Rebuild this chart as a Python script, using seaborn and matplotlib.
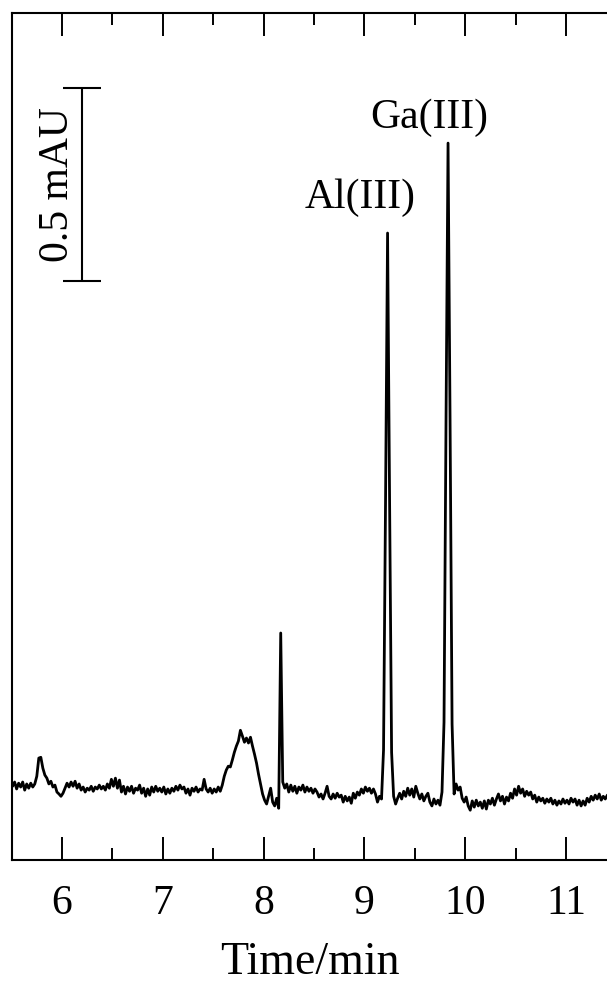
import numpy as np
import pandas as pd
import matplotlib
matplotlib.use("Agg")
import matplotlib.pyplot as plt
import seaborn as sns
from matplotlib.ticker import MultipleLocator

# electropherogram, detector read every 0.02 min
time_min = np.round(np.linspace(5.51, 11.41, 296), 2)
signal_mau = [
    0.010, 0.021, 0.003, 0.018, 0.008, 0.021, 0.000, 0.016, 0.005, 0.018,
    0.008, 0.016, 0.036, 0.083, 0.085, 0.057, 0.039, 0.031, 0.016, 0.023,
    0.008, 0.013, -0.005, -0.010, -0.016, -0.008, 0.005, 0.018, 0.008, 0.021,
    0.010, 0.023, 0.005, 0.016, 0.000, 0.008, -0.005, 0.005, 0.000, 0.010,
    -0.003, 0.008, 0.003, 0.013, 0.003, 0.010, 0.000, 0.016, 0.005, 0.028,
    0.010, 0.031, 0.005, 0.026, -0.005, 0.010, -0.010, 0.008, -0.003, 0.010,
    -0.008, 0.005, 0.000, 0.013, -0.008, 0.005, -0.016, 0.003, -0.013, 0.008,
    -0.005, 0.010, -0.003, 0.005, -0.005, 0.008, -0.010, 0.003, -0.008, 0.005,
    -0.003, 0.010, 0.000, 0.013, 0.003, 0.008, -0.008, 0.003, -0.013, 0.005,
    -0.003, 0.008, -0.005, 0.003, 0.000, 0.028, 0.003, -0.005, 0.005, -0.008,
    0.003, -0.005, 0.008, -0.003, 0.013, 0.036, 0.052, 0.062, 0.060, 0.078,
    0.098, 0.114, 0.127, 0.155, 0.140, 0.124, 0.135, 0.122, 0.137, 0.114,
    0.093, 0.070, 0.041, 0.016, -0.010, -0.026, -0.036, -0.016, 0.005, -0.031,
    -0.041, -0.021, -0.047, 0.407, 0.021, 0.005, 0.016, -0.005, 0.013, -0.003,
    0.010, -0.008, 0.008, 0.000, 0.013, -0.005, 0.008, -0.003, 0.005, -0.008,
    0.003, -0.005, -0.018, -0.010, -0.023, -0.008, 0.010, -0.016, -0.023, -0.010,
    -0.021, -0.008, -0.018, -0.013, -0.031, -0.016, -0.028, -0.018, -0.034, -0.008,
    -0.021, -0.005, -0.013, 0.003, -0.008, 0.008, -0.003, 0.005, -0.008, 0.003,
    -0.010, -0.031, -0.016, -0.023, 0.104, 0.751, 1.443, 0.751, 0.098, -0.016,
    -0.036, -0.021, -0.008, -0.023, -0.003, -0.016, 0.005, -0.013, 0.003, -0.018,
    0.010, -0.008, -0.023, -0.010, -0.028, -0.016, -0.008, -0.031, -0.041, -0.023,
    -0.036, -0.026, -0.039, -0.005, 0.176, 0.958, 1.676, 0.958, 0.171, -0.010,
    0.016, 0.000, 0.008, -0.021, -0.031, -0.018, -0.041, -0.052, -0.028, -0.044,
    -0.026, -0.041, -0.031, -0.047, -0.028, -0.049, -0.026, -0.036, -0.021, -0.039,
    -0.023, -0.010, -0.028, -0.016, -0.036, -0.018, -0.028, -0.008, -0.021, 0.003,
    -0.013, 0.010, -0.008, 0.003, -0.016, -0.003, -0.013, -0.005, -0.023, -0.013,
    -0.031, -0.018, -0.028, -0.021, -0.034, -0.023, -0.031, -0.021, -0.036, -0.026,
    -0.039, -0.028, -0.036, -0.023, -0.034, -0.026, -0.036, -0.021, -0.031, -0.023,
    -0.039, -0.026, -0.041, -0.028, -0.039, -0.021, -0.031, -0.016, -0.026, -0.013,
    -0.023, -0.010, -0.026, -0.016, -0.023, -0.013,
]
peak_names = ["Al(III)", "Ga(III)"]
peak_label_x = [8.956, 9.64]
peak_label_y = [1.507, 1.715]
scale_mau = 0.5

df = pd.DataFrame({"time": time_min, "signal": signal_mau})

sns.set_theme(style="ticks")
plt.rcParams["font.family"] = ["Liberation Serif", "DejaVu Serif"]
plt.rcParams["text.color"] = "black"
plt.rcParams["axes.labelcolor"] = "black"
plt.rcParams["xtick.color"] = "black"

fig = plt.figure(figsize=(6.07, 9.84), dpi=100)
ax = fig.add_axes([12 / 607, 124 / 984, 595 / 607, 847 / 984])

sns.lineplot(data=df, x="time", y="signal", ax=ax, color="black", linewidth=2.0)

ax.set_xlim(5.504, 11.407)
ax.set_ylim(-0.181, 2.013)

# scale bar
bar_x, bar_y0 = 6.198, 1.318
ax.vlines(bar_x, bar_y0, bar_y0 + scale_mau, color="black", lw=1.5)
ax.hlines([bar_y0, bar_y0 + scale_mau], bar_x - 0.19, bar_x + 0.19, color="black", lw=1.5)
ax.text(5.96, bar_y0 + scale_mau / 2, f"{scale_mau} mAU", rotation=90,
        ha="center", va="center", fontsize=30)

for name, lx, ly in zip(peak_names, peak_label_x, peak_label_y):
    ax.text(lx, ly, name, ha="center", va="baseline", fontsize=30)

ax.xaxis.set_major_locator(MultipleLocator(1))
ax.xaxis.set_minor_locator(MultipleLocator(0.5))
ax.tick_params(axis="x", which="both", direction="in", top=True, bottom=True,
               labelsize=30, pad=18, width=1.4, color="black", labelcolor="black")
ax.tick_params(axis="x", which="major", length=16.5)
ax.tick_params(axis="x", which="minor", length=8.6)
ax.set_yticks([])
ax.set_ylabel("")
ax.set_xlabel("Time/min", fontsize=33, labelpad=13)

for side in ["left", "top", "bottom"]:
    ax.spines[side].set_linewidth(1.5)
    ax.spines[side].set_color("black")
ax.spines["right"].set_visible(False)

fig.savefig("out.png", dpi=100)
